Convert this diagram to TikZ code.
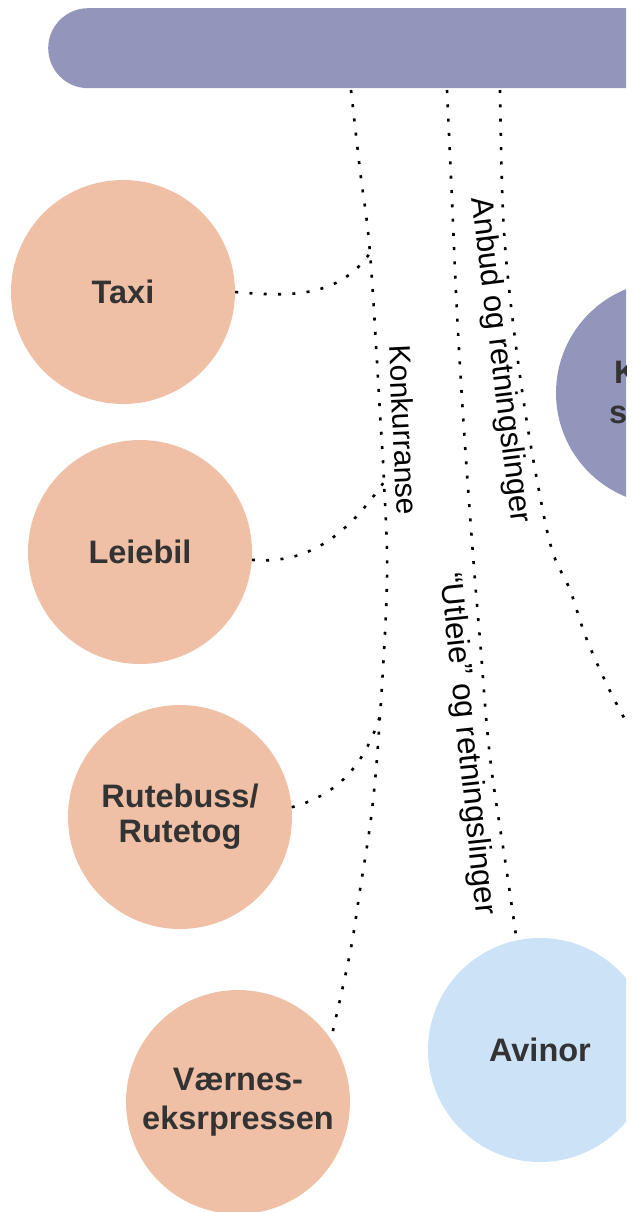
\documentclass[tikz,border=0pt]{standalone}
\usepackage{fontspec}
\setmainfont{Liberation Sans}
\definecolor{barcol}{HTML}{9396BB}
\definecolor{peach}{HTML}{F0C0A6}
\definecolor{sky}{HTML}{CCE2F6}
\definecolor{ink}{HTML}{333333}
\begin{document}
\begin{tikzpicture}[x=1pt,y=-1pt,
  circ/.style={circle, inner sep=0pt, minimum size=224pt, text=ink,
    font=\fontsize{32.5}{35}\selectfont\bfseries, align=center},
  dots/.style={line width=2.6pt, dash pattern=on 3pt off 11.3pt},
  lbl/.style={inner sep=0pt, text depth=0pt}]
\useasboundingbox (0,0) rectangle (636,1212);
\clip (0,0) rectangle (626,1212);
% top bar
\node[fill=barcol, rounded corners=40pt, anchor=north west, minimum width=700pt,
  minimum height=80pt, inner sep=0pt] (bar) at (48,8) {};
% circles
\node[circ, fill=peach] (taxi) at (123,292) {Taxi};
\node[circ, fill=peach] (leiebil) at (140,552) {Leiebil};
\node[circ, fill=peach] (rutebuss) at (180,817) {Rutebuss/\\Rutetog};
\node[circ, fill=peach, font=\fontsize{32.5}{39}\selectfont\bfseries] (vaernes) at (238,1102) {Værnes-\\eksrpressen};
\node[circ, fill=sky] (avinor) at (540,1050) {Avinor};
\node[circ, fill=barcol] (kcirc) at (668,393) {};
\node[anchor=base west, inner sep=0pt, text=ink, font=\fontsize{32.5}{35}\selectfont\bfseries] (kt1) at (614,383) {K};
\node[anchor=base west, inner sep=0pt, text=ink, font=\fontsize{32.5}{35}\selectfont\bfseries] (kt2) at (609,423) {s};
% junction points
\coordinate (j1) at (370,253);
\coordinate (j2) at (384,482);
\coordinate (j3) at (380,716);
\coordinate (k0) at (351,90);
\coordinate (u0) at (447,90);
\coordinate (a0) at (500,90);
% Konkurranse line
\draw[dots] plot[smooth, tension=0.6] coordinates {(k0) (360,170) (j1) (380,413) (j2) (387,580) (j3) (372,810) (360,890) (350,953) (vaernes.34)};
% Utleie line
\draw[dots] plot[smooth, tension=0.6] coordinates {(u0) (452,200) (457,313) (464,430) (473,555) (480,640) (490,757) (507,873) (avinor.102)};
% Anbud line
\draw[dots] plot[smooth, tension=0.6] coordinates {(a0) (503,213) (510,297) (523,397) (537,480) (552,550) (570,590) (587,640) (613,697) (640,745) (670,790)};
% branches
\draw[dots] (taxi.east) to[out=-5,in=-125] (j1);
\draw[dots] (leiebil.-4) to[out=-5,in=-125] (j2);
\draw[dots] (rutebuss.5) to[out=15,in=-108] (j3);
% labels
\node[lbl, rotate=-87.3, font=\fontsize{30}{30}\selectfont] (lk) at (404,430) {Konkurranse};
\node[lbl, rotate=-83, font=\fontsize{31}{31}\selectfont] (la) at (503,360) {Anbud og retningslinger};
\node[lbl, rotate=-84, font=\fontsize{31.5}{31}\selectfont] (lu) at (470,744) {“Utleie” og retningslinger};
\end{tikzpicture}
\end{document}
